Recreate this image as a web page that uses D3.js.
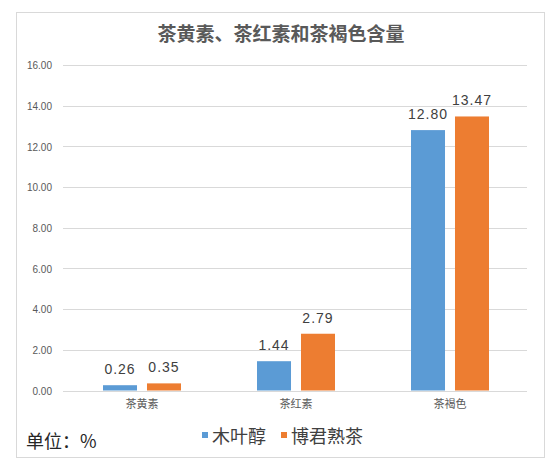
<!DOCTYPE html>
<html>
<head>
<meta charset="utf-8">
<script src="https://cdn.jsdelivr.net/npm/d3@7"></script>
<style>
  body { margin: 0; background: #fff; }
  svg { display: block; }
</style>
</head>
<body>
<div id="chart"></div>
<script>
// chart data
const categories = ['茶黄素', '茶红素', '茶褐色'];
const seriesNames = ['木叶醇', '博君熟茶'];
const muyechun = [0.26, 1.44, 12.80];
const bojun = [0.35, 2.79, 13.47];
const yTicks = [0, 2, 4, 6, 8, 10, 12, 14, 16];
const colors = ['#5b9bd5', '#ed7d31'];

const W = 550, H = 467;
const cjk = '"Noto Sans CJK SC", "Noto Sans", sans-serif';
const latin = '"Liberation Sans", Arial, sans-serif';

const svg = d3.select('#chart').append('svg')
  .attr('width', W)
  .attr('height', H);

// outer frame
svg.append('rect')
  .attr('x', 16.5).attr('y', 12.5)
  .attr('width', 528).attr('height', 445)
  .attr('fill', '#fff')
  .attr('stroke', '#d9d9d9');

svg.append('text')
  .attr('x', 281).attr('y', 41)
  .attr('text-anchor', 'middle')
  .style('font-family', cjk)
  .style('font-size', '19px')
  .style('font-weight', 'bold')
  .style('fill', '#595959')
  .text('茶黄素、茶红素和茶褐色含量');

const x0 = d3.scaleBand()
  .domain(categories)
  .range([65, 527]);

const bw = x0.bandwidth();
const x1 = d3.scaleBand()
  .domain(seriesNames)
  .range([bw / 2 - 39, bw / 2 + 39])
  .paddingInner(0.227);

const y = d3.scaleLinear()
  .domain([0, 16])
  .range([390.5, 65]);

// gridlines
svg.append('g')
  .selectAll('line')
  .data(yTicks)
  .enter()
  .append('line')
  .attr('x1', 63)
  .attr('x2', 527)
  .attr('y1', d => Math.round(y(d)) + 0.5)
  .attr('y2', d => Math.round(y(d)) + 0.5)
  .attr('stroke', '#d9d9d9')
  .attr('stroke-width', 1);

// y axis labels
const yAxis = svg.append('g')
  .attr('transform', 'translate(63,0.5)')
  .call(d3.axisLeft(y).tickValues(yTicks).tickSize(0).tickPadding(11).tickFormat(d => d.toFixed(2)));
yAxis.select('.domain').remove();
yAxis.selectAll('text')
  .style('font-family', latin)
  .style('font-size', '10px')
  .style('fill', '#595959');

// x axis labels
const xAxis = svg.append('g')
  .attr('transform', 'translate(0,391)')
  .call(d3.axisBottom(x0).tickSize(0).tickPadding(9));
xAxis.select('.domain').remove();
xAxis.selectAll('text')
  .style('font-family', cjk)
  .style('font-size', '11px')
  .style('fill', '#595959');

const rows = categories.map((c, i) => ({
  category: c,
  values: [muyechun[i], bojun[i]].map((v, j) => ({ name: seriesNames[j], value: v, idx: j }))
}));

const groups = svg.append('g')
  .selectAll('g')
  .data(rows)
  .enter()
  .append('g')
  .attr('transform', d => `translate(${x0(d.category)},0)`);

groups.selectAll('rect')
  .data(d => d.values)
  .enter()
  .append('rect')
  .attr('x', d => x1(d.name))
  .attr('y', d => y(d.value))
  .attr('width', x1.bandwidth())
  .attr('height', d => y(0) - y(d.value))
  .attr('fill', d => colors[d.idx]);

groups.selectAll('text')
  .data(d => d.values)
  .enter()
  .append('text')
  .attr('x', d => x1(d.name) + x1.bandwidth() / 2)
  .attr('y', d => y(d.value) - 11)
  .attr('text-anchor', 'middle')
  .style('font-family', latin)
  .style('font-size', '14px')
  .style('letter-spacing', '1px')
  .style('fill', '#404040')
  .text(d => d.value.toFixed(2));

// legend
const legendPos = [202, 281];
const legend = svg.append('g')
  .selectAll('g')
  .data(seriesNames)
  .enter()
  .append('g')
  .attr('transform', (d, i) => `translate(${legendPos[i]},0)`);

legend.append('rect')
  .attr('x', 0).attr('y', 432)
  .attr('width', 6).attr('height', 6)
  .attr('fill', (d, i) => colors[i]);

legend.append('text')
  .attr('x', 10).attr('y', 443)
  .style('font-family', cjk)
  .style('font-size', '18px')
  .style('fill', '#404040')
  .text(d => d);

svg.append('text')
  .attr('x', 26).attr('y', 448)
  .style('font-family', cjk)
  .style('font-size', '18px')
  .style('fill', '#262626')
  .text('单位：%');
</script>
</body>
</html>
